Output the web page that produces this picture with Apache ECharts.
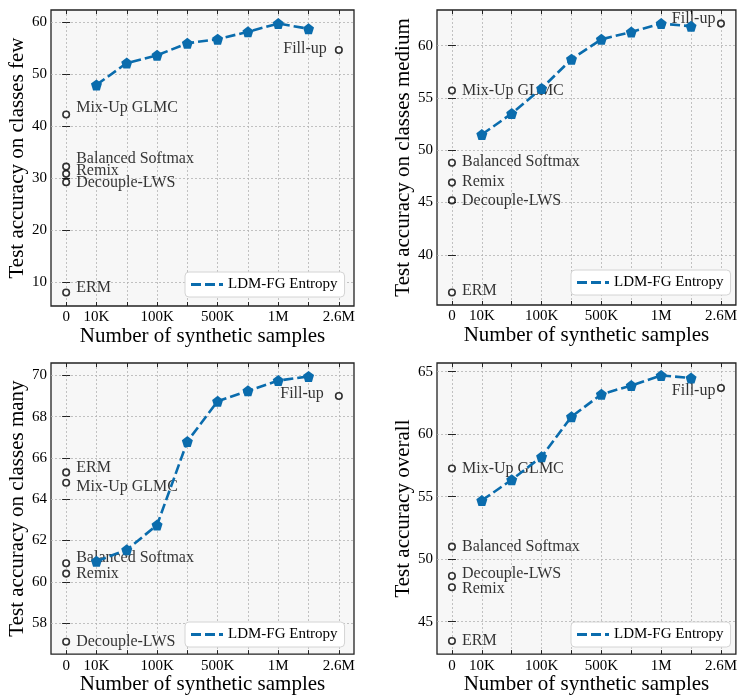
<!DOCTYPE html>
<html>
<head>
<meta charset="utf-8">
<title>LDM-FG Entropy vs synthetic samples</title>
<script src="https://cdn.jsdelivr.net/npm/echarts@6/dist/echarts.min.js"></script>
<style>
  html, body { margin: 0; padding: 0; background: #fff; }
  #chart { width: 740px; height: 696px; }
</style>
</head>
<body>
<div id="chart"></div>
<script>
// x positions are step indices; only some steps carry a tick label
const xTickLabels = ['0', '10K', '', '100K', '', '500K', '', '1M', '', '2.6M']
const lineSteps = [1, 2, 3, 4, 5, 6, 7, 8]
const baselineStep = 0
const fillUpStep = 9
const baselineNames = ['ERM', 'Mix-Up GLMC', 'Balanced Softmax', 'Remix', 'Decouple-LWS']

const fewEntropy = [47.9, 52.1, 53.6, 55.9, 56.7, 58.1, 59.7, 58.7]
const fewBaselines = [8.0, 42.2, 32.2, 30.8, 29.2]
const fewFillUp = 54.6
const fewTicks = [10, 20, 30, 40, 50, 60]

const mediumEntropy = [51.5, 53.5, 55.9, 58.7, 60.6, 61.3, 62.1, 61.85]
const mediumBaselines = [36.4, 55.7, 48.8, 46.9, 45.2]
const mediumFillUp = 62.1
const mediumTicks = [40, 45, 50, 55, 60]

const manyEntropy = [61.0, 61.55, 62.75, 66.8, 68.75, 69.25, 69.75, 69.95]
const manyBaselines = [65.3, 64.8, 60.9, 60.4, 57.1]
const manyFillUp = 69.0
const manyTicks = [58, 60, 62, 64, 66, 68, 70]

const overallEntropy = [54.7, 56.35, 58.2, 61.4, 63.2, 63.9, 64.7, 64.5]
const overallBaselines = [43.45, 57.25, 51.0, 47.75, 48.65]
const overallFillUp = 63.7
const overallTicks = [45, 50, 55, 60, 65]

const FONT = 'Liberation Serif'
const BLUE = '#0a6cad'
const PENTAGON = 'path://M0,-1 L0.951,-0.309 L0.588,0.809 L-0.588,0.809 L-0.951,-0.309 Z'
const DASH_ICON = 'path://M0,0h10v3h-10z M14,0h10v3h-10z M28,0h4v3h-4z'

// layout: box = [left, top, width, height], legend = [left, top]
// nudges = vertical label shifts for the baselines, fill = [distance, dy]
const panels = [
  { entropy: fewEntropy, baselines: fewBaselines, fillUp: fewFillUp, ticks: fewTicks,
    yName: 'Test accuracy on classes few', yMin: 5.4, yMax: 62.3,
    box: [51, 10, 303, 296], legend: [185, 272],
    nudges: [-5, -7, -8, -3, 1], fill: [8, -1] },
  { entropy: mediumEntropy, baselines: mediumBaselines, fillUp: mediumFillUp, ticks: mediumTicks,
    yName: 'Test accuracy on classes medium', yMin: 35.2, yMax: 63.4,
    box: [437, 10, 304, 295], legend: [571, 270],
    nudges: [-2, 0, -1, -1, 0], fill: [1.5, -5] },
  { entropy: manyEntropy, baselines: manyBaselines, fillUp: manyFillUp, ticks: manyTicks,
    yName: 'Test accuracy on classes many', yMin: 56.5, yMax: 70.6,
    box: [51, 363, 303, 294], legend: [185, 622],
    nudges: [-5, 4, -5, 0, 0], fill: [11, -2] },
  { entropy: overallEntropy, baselines: overallBaselines, fillUp: overallFillUp, ticks: overallTicks,
    yName: 'Test accuracy overall', yMin: 42.4, yMax: 65.7,
    box: [437, 363, 304, 294], legend: [571, 622],
    nudges: [0, 0, 0, 2, -2], fill: [1.5, 3] }
]

const allSteps = xTickLabels.map((_, i) => i)
const labelledSteps = allSteps.filter(i => xTickLabels[i] !== '')

const gridLine = { show: true, lineStyle: { color: '#b3b3b3', width: 0.8, type: [2, 2] } }
const innerTick = (values) => ({ show: true, inside: true, length: 4, customValues: values, lineStyle: { color: '#222', width: 1 } })

const grid = [], xAxis = [], yAxis = [], series = [], legend = []

panels.forEach((p, i) => {
  grid.push({
    left: p.box[0], top: p.box[1], width: p.box[2], height: p.box[3],
    show: true, backgroundColor: '#f7f7f7', borderColor: '#222', borderWidth: 1.3
  })

  // bottom + top x axes (top one only for the inward ticks)
  xAxis.push({
    gridIndex: i, type: 'value', min: -0.5, max: 9.5, position: 'bottom',
    axisLine: { show: false },
    axisTick: innerTick(allSteps),
    axisLabel: {
      customValues: labelledSteps, margin: 4, color: '#000',
      fontFamily: FONT, fontSize: 15, formatter: v => xTickLabels[v]
    },
    splitLine: gridLine,
    name: 'Number of synthetic samples', nameLocation: 'middle', nameGap: 19,
    nameTextStyle: { fontFamily: FONT, fontSize: 21, color: '#000' }
  })
  xAxis.push({
    gridIndex: i, type: 'value', min: -0.5, max: 9.5, position: 'top',
    axisLine: { show: false }, axisTick: innerTick(allSteps),
    axisLabel: { show: false }, splitLine: { show: false }
  })

  yAxis.push({
    gridIndex: i, type: 'value', min: p.yMin, max: p.yMax, position: 'left',
    axisLine: { show: false },
    axisTick: innerTick(p.ticks),
    axisLabel: { customValues: p.ticks, margin: 4, color: '#000', fontFamily: FONT, fontSize: 15 },
    splitLine: gridLine,
    name: p.yName, nameLocation: 'middle', nameGap: 14,
    nameTextStyle: { fontFamily: FONT, fontSize: 21, color: '#000' }
  })
  yAxis.push({
    gridIndex: i, type: 'value', min: p.yMin, max: p.yMax, position: 'right',
    axisLine: { show: false }, axisTick: innerTick(p.ticks),
    axisLabel: { show: false }, splitLine: { show: false }
  })

  series.push({
    name: 'LDM-FG Entropy', type: 'line',
    xAxisIndex: i * 2, yAxisIndex: i * 2,
    data: lineSteps.map((s, k) => [s, p.entropy[k]]),
    symbol: PENTAGON, symbolSize: 11, showSymbol: true,
    lineStyle: { color: BLUE, width: 2.6, type: [10, 4] },
    itemStyle: { color: BLUE },
    z: 5, animation: false
  })

  const pointStyle = { color: '#fff', borderColor: '#000', borderWidth: 1.6 }
  const labelStyle = { show: true, fontFamily: FONT, fontSize: 16, color: '#000', formatter: '{b}' }

  series.push({
    name: 'baselines', type: 'scatter',
    xAxisIndex: i * 2, yAxisIndex: i * 2,
    symbol: 'circle', symbolSize: 6.5, itemStyle: pointStyle,
    label: Object.assign({ position: 'right', distance: 6 }, labelStyle),
    data: baselineNames.map((n, k) => ({
      name: n, value: [baselineStep, p.baselines[k]],
      label: { offset: [0, p.nudges[k]] }
    })),
    z: 4, animation: false
  })

  series.push({
    name: 'Fill-up', type: 'scatter',
    xAxisIndex: i * 2, yAxisIndex: i * 2,
    symbol: 'circle', symbolSize: 6.5, itemStyle: pointStyle,
    label: Object.assign({ position: 'left', distance: p.fill[0], offset: [0, p.fill[1]] }, labelStyle),
    data: [{ name: 'Fill-up', value: [fillUpStep, p.fillUp] }],
    z: 4, animation: false
  })

  legend.push({
    data: [{ name: 'LDM-FG Entropy', icon: DASH_ICON }],
    left: p.legend[0], top: p.legend[1],
    orient: 'vertical',
    backgroundColor: '#fff', borderColor: '#d4d4d4', borderWidth: 1, borderRadius: 4,
    padding: [5, 7, 5, 6], itemWidth: 32, itemHeight: 3, itemGap: 5,
    selectedMode: false,
    textStyle: { fontFamily: FONT, fontSize: 15, color: '#000' }
  })
})

const chart = echarts.init(document.getElementById('chart'))
chart.setOption({
  animation: false,
  textStyle: { fontFamily: FONT },
  grid, xAxis, yAxis, series, legend
})
</script>
</body>
</html>
